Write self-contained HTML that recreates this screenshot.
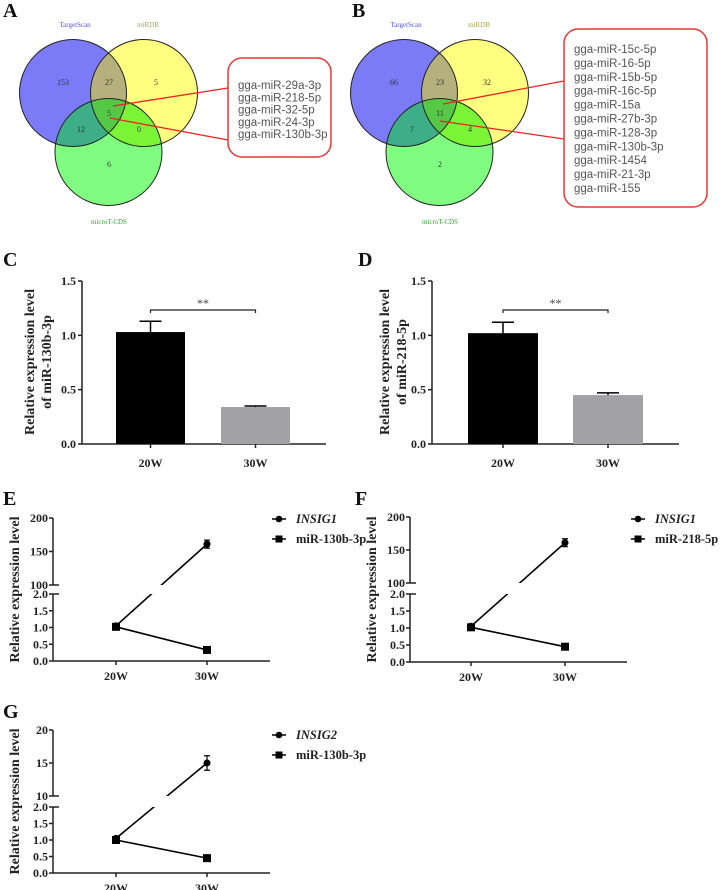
<!DOCTYPE html>
<html><head><meta charset="utf-8">
<style>
html,body{margin:0;padding:0;background:#fff;}
svg{display:block;}
.pl{font-family:"Liberation Serif",serif;font-weight:bold;font-size:20px;fill:#111;}
.tk{font-family:"Liberation Serif",serif;font-weight:bold;font-size:12px;fill:#222;}
.lg{font-family:"Liberation Serif",serif;font-weight:bold;font-size:12.5px;fill:#222;}
.yl{font-family:"Liberation Serif",serif;font-weight:bold;font-size:14px;fill:#222;}
.vn{font-family:"Liberation Serif",serif;font-size:8px;fill:#333;}
.bx{font-family:"Liberation Sans","DejaVu Sans",sans-serif;font-size:11.5px;fill:#555;}
</style></head><body>
<svg id="fig" width="722" height="890" viewBox="0 0 722 890" xmlns="http://www.w3.org/2000/svg">
<g id="root"></g>
</svg>
<script>
// ---- data ----
const vennSetNames = ["TargetScan", "miRDB", "microT-CDS"];
const vennCountsA = [153, 27, 5, 5, 12, 0, 6];
const vennCountsB = [66, 23, 32, 11, 7, 4, 2];
const mirListA = ["gga-miR-29a-3p","gga-miR-218-5p","gga-miR-32-5p","gga-miR-24-3p","gga-miR-130b-3p"];
const mirListB = ["gga-miR-15c-5p","gga-miR-16-5p","gga-miR-15b-5p","gga-miR-16c-5p","gga-miR-15a","gga-miR-27b-3p","gga-miR-128-3p","gga-miR-130b-3p","gga-miR-1454","gga-miR-21-3p","gga-miR-155"];
const barCategories = ["20W", "30W"];
const barTicks = [0.0, 0.5, 1.0, 1.5];
const barValuesC = [1.03, 0.34];
const barErrorsC = [0.10, 0.01];
const barValuesD = [1.02, 0.45];
const barErrorsD = [0.10, 0.02];
const lineCategories = ["20W", "30W"];
const lowTicks = [0.0, 0.5, 1.0, 1.5, 2.0];
const highTicksEF = [100, 150, 200];
const highTicksG = [10, 15, 20];
const geneE = [1.05, 161]; const geneErrE = [0.05, 6];
const mirE = [1.02, 0.33];
const geneF = [1.05, 161]; const geneErrF = [0.05, 6];
const mirF = [1.02, 0.45];
const geneG = [1.05, 15.0]; const geneErrG = [0.05, 1.1];
const mirG = [1.0, 0.45];

const NS = "http://www.w3.org/2000/svg";
const root = document.getElementById('root');
function mk(tag, attrs, parent, txt){
  const e = document.createElementNS(NS, tag);
  for (const k in attrs) e.setAttribute(k, attrs[k]);
  if (txt !== undefined) e.textContent = txt;
  (parent || root).appendChild(e);
  return e;
}
let clipId = 0;

// ---- panel letters ----
[["A",3,17],["B",352,17],["C",3,266],["D",358,266],["E",3,505],["F",355,505],["G",3,718]].forEach(p=>{
  const t = mk('text',{x:p[1],y:p[2],class:'pl'},root,p[0]);
  
  
});

// ---- venn ----
function venn(ox, counts, list, box, lines, key){
  const g = mk('g',{});
  
  
  const r = 53.5;
  const C = [[ox+20, 93],[ox+91, 93],[ox+55.5, 152]];
  const cols = ['#7b7bf7','#ffff80','#80fd80'];
  const ids = C.map((c,i)=>{
    const id = 'vc'+(clipId++);
    const cp = mk('clipPath',{id:id},g);
    mk('circle',{cx:c[0],cy:c[1],r:r},cp);
    return id;
  });
  C.forEach((c,i)=>{ const e=mk('circle',{cx:c[0],cy:c[1],r:r,fill:cols[i]},g);
    
    });
  const g1 = mk('g',{'clip-path':'url(#'+ids[0]+')'},g);
  mk('circle',{cx:C[1][0],cy:C[1][1],r:r,fill:'#b6b17c'},g1);
  mk('circle',{cx:C[2][0],cy:C[2][1],r:r,fill:'#3eae88'},g1);
  const g2 = mk('g',{'clip-path':'url(#'+ids[1]+')'},g);
  mk('circle',{cx:C[2][0],cy:C[2][1],r:r,fill:'#7af536'},g2);
  const g3 = mk('g',{'clip-path':'url(#'+ids[0]+')'},g);
  const g4 = mk('g',{'clip-path':'url(#'+ids[1]+')'},g3);
  mk('circle',{cx:C[2][0],cy:C[2][1],r:r,fill:'#55c846'},g4);
  C.forEach(c=>mk('circle',{cx:c[0],cy:c[1],r:r,fill:'none',stroke:'#222','stroke-width':1},g));
  const pos = [[ox+10,85],[ox+56,85],[ox+103,85],[ox+56,116],[ox+28,132],[ox+86,132],[ox+56,167]];
  counts.forEach((v,i)=>{ const t=mk('text',{x:pos[i][0],y:pos[i][1],class:'vn','text-anchor':'middle'},g,String(v));
    
    });
  const lab = [[ox+22,27,'#5555ee'],[ox+95,27,'#aaa04a'],[ox+56,224,'#33aa33']];
  vennSetNames.forEach((n,i)=>{ const t=mk('text',{x:lab[i][0],y:lab[i][1],class:'vn','text-anchor':'middle',style:'font-size:7px;fill:'+lab[i][2]},g,n);
    
    });
  lines.forEach(l=>mk('line',{x1:l[0],y1:l[1],x2:l[2],y2:l[3],stroke:'#ee2222','stroke-width':1.3},g));
  const b = mk('rect',{x:box[0],y:box[1],width:box[2],height:box[3],rx:14,fill:'#fff',stroke:'#ee3333','stroke-width':1.5},g);
  
  
  list.forEach((s,i)=>{ const t=mk('text',{x:box[0]+10,y:box[4]+i*box[5],class:'bx'},g,s);
    
    });
}
venn(53, vennCountsA, mirListA, [228,58,103,99,89,12.3], [[113,106,228,88],[110,118,228,140]], 'a');
venn(384, vennCountsB, mirListB, [564,29,143,178,53,13.9], [[443,104,564,81],[440,121,564,139]], 'b');

// ---- bar charts ----
function bars(ax, axEnd, vals, errs, barX, bw, yl2, lx, key){
  const g = mk('g',{});
  
  
  const y0 = 444, yTop = 281;
  const ys = v => y0 - (v/1.5)*(y0-yTop);
  mk('line',{x1:ax,y1:yTop,x2:ax,y2:y0,stroke:'#222','stroke-width':1.5},g);
  mk('line',{x1:ax,y1:y0,x2:axEnd,y2:y0,stroke:'#222','stroke-width':1.5},g);
  barTicks.forEach(t=>{
    mk('line',{x1:ax-4,y1:ys(t),x2:ax,y2:ys(t),stroke:'#222','stroke-width':1.5},g);
    const e=mk('text',{x:ax-6,y:ys(t)+4,class:'tk','text-anchor':'end'},g,t.toFixed(1));
    
    
  });
  vals.forEach((v,i)=>{
    const cx = barX[i]+bw/2;
    const rc = mk('rect',{x:barX[i],y:ys(v),width:bw,height:y0-ys(v),fill:i==0?'#000':'#a2a2a6'},g);
    
    
    mk('line',{x1:cx,y1:ys(v),x2:cx,y2:ys(v+errs[i]),stroke:'#000','stroke-width':1.5},g);
    mk('line',{x1:cx-11,y1:ys(v+errs[i]),x2:cx+11,y2:ys(v+errs[i]),stroke:'#000','stroke-width':1.5},g);
    mk('line',{x1:cx,y1:y0,x2:cx,y2:y0+4,stroke:'#222','stroke-width':1.5},g);
    const t=mk('text',{x:cx,y:467,class:'tk','text-anchor':'middle'},g,barCategories[i]);
    
    
  });
  const c0 = barX[0]+bw/2, c1 = barX[1]+bw/2;
  mk('path',{d:`M${c0},313 V310 H${c1} V313`,fill:'none',stroke:'#222','stroke-width':1.2},g);
  const s=mk('text',{x:(c0+c1)/2,y:307,class:'tk','text-anchor':'middle',style:'font-weight:normal;fill:#444'},g,'**');
  
  
  const yt = mk('text',{transform:`translate(${lx},362) rotate(-90)`,class:'yl','text-anchor':'middle'},g);
  
  
  mk('tspan',{x:0,dy:0},yt,'Relative expression level');
  mk('tspan',{x:0,dy:17},yt,yl2);
}
bars(82, 326, barValuesC, barErrorsC, [116,221], 69, 'of miR-130b-3p', 34, 'c');
bars(432, 679, barValuesD, barErrorsD, [468,573], 70, 'of miR-218-5p', 389, 'd');

// ---- broken-axis line charts ----
function lineChart(ax, xs, yHiTop, yHiBot, yLoTop, yLoBot, hiTicks, gene, gerr, mir, geneName, mirName, legX, legY, key){
  const g = mk('g',{});
  
  
  const hMin = hiTicks[0], hMax = hiTicks[hiTicks.length-1];
  const ys = v => v <= 2 ? yLoBot - v/2*(yLoBot-yLoTop) : yHiBot - (v-hMin)/(hMax-hMin)*(yHiBot-yHiTop);
  const axEnd = ax + 217;
  const id = 'lc'+(clipId++);
  const cp = mk('clipPath',{id:id},g);
  mk('rect',{x:0,y:0,width:722,height:yHiBot},cp);
  mk('rect',{x:0,y:yLoTop,width:722,height:200},cp);
  const gl = mk('g',{'clip-path':'url(#'+id+')'},g);
  const ln1 = mk('line',{x1:xs[0],y1:ys(gene[0]),x2:xs[1],y2:ys(gene[1]),stroke:'#000','stroke-width':1.6},gl);
  
  
  const ln2 = mk('line',{x1:xs[0],y1:ys(mir[0]),x2:xs[1],y2:ys(mir[1]),stroke:'#000','stroke-width':1.6},g);
  
  
  gene.forEach((v,i)=>{
    const y = ys(v), e1 = ys(v+gerr[i]), e2 = ys(v-gerr[i]);
    mk('path',{d:`M${xs[i]-3},${e1}H${xs[i]+3}M${xs[i]},${e1}V${e2}M${xs[i]-3},${e2}H${xs[i]+3}`,stroke:'#000','stroke-width':1.2,fill:'none'},g);
    const c=mk('circle',{cx:xs[i],cy:y,r:3.5,fill:'#000'},g);
    
    
  });
  mir.forEach((v,i)=>{
    const s=mk('rect',{x:xs[i]-4,y:ys(v)-4,width:8,height:8,fill:'#000'},g);
    
    
  });
  mk('line',{x1:ax,y1:yHiTop,x2:ax,y2:yHiBot,stroke:'#222','stroke-width':1.5},g);
  mk('line',{x1:ax,y1:yLoTop,x2:ax,y2:yLoBot,stroke:'#222','stroke-width':1.5},g);
  mk('line',{x1:ax,y1:yLoBot,x2:axEnd,y2:yLoBot,stroke:'#222','stroke-width':1.5},g);
  mk('line',{x1:ax,y1:yHiBot,x2:ax+6,y2:yHiBot,stroke:'#222','stroke-width':1.5},g);
  mk('line',{x1:ax,y1:yLoTop,x2:ax+6,y2:yLoTop,stroke:'#222','stroke-width':1.5},g);
  hiTicks.forEach(t=>{
    mk('line',{x1:ax-4,y1:ys(t),x2:ax,y2:ys(t),stroke:'#222','stroke-width':1.5},g);
    const e=mk('text',{x:ax-5,y:ys(t)+4,class:'tk','text-anchor':'end'},g,String(t));
    
    
  });
  lowTicks.forEach(t=>{
    const y = yLoBot - t/2*(yLoBot-yLoTop);
    mk('line',{x1:ax-4,y1:y,x2:ax,y2:y,stroke:'#222','stroke-width':1.5},g);
    const e=mk('text',{x:ax-5,y:y+4,class:'tk','text-anchor':'end'},g,t.toFixed(1));
    
    
  });
  lineCategories.forEach((c,i)=>{
    mk('line',{x1:xs[i],y1:yLoBot,x2:xs[i],y2:yLoBot+4,stroke:'#222','stroke-width':1.5},g);
    const t=mk('text',{x:xs[i],y:yLoBot+19,class:'tk','text-anchor':'middle'},g,c);
    
    
  });
  const yt = mk('text',{transform:`translate(${ax-34},${(yHiTop+yLoBot)/2}) rotate(-90)`,class:'yl','text-anchor':'middle'},g,'Relative expression level');
  
  
  const lg = mk('g',{},g);
  
  
  mk('line',{x1:legX,y1:legY,x2:legX+14,y2:legY,stroke:'#000','stroke-width':1.5},lg);
  mk('circle',{cx:legX+7,cy:legY,r:3.3,fill:'#000'},lg);
  const t1=mk('text',{x:legX+24,y:legY+4,class:'lg',style:'font-style:italic'},lg,geneName);
  
  
  mk('line',{x1:legX,y1:legY+20,x2:legX+14,y2:legY+20,stroke:'#000','stroke-width':1.5},lg);
  mk('rect',{x:legX+3.5,y:legY+16.5,width:7,height:7,fill:'#000'},lg);
  const t2=mk('text',{x:legX+24,y:legY+24,class:'lg'},lg,mirName);
  
  
}
lineChart(53, [116,207], 518, 585, 594, 661, highTicksEF, geneE, geneErrE, mirE, 'INSIG1', 'miR-130b-3p', 272, 519, 'e');
lineChart(410, [471,565], 517, 583, 594, 662, highTicksEF, geneF, geneErrF, mirF, 'INSIG1', 'miR-218-5p', 631, 519, 'f');
lineChart(53, [116,207], 730, 796, 807, 873, highTicksG, geneG, geneErrG, mirG, 'INSIG2', 'miR-130b-3p', 272, 735, 'g');
</script>
</body></html>
